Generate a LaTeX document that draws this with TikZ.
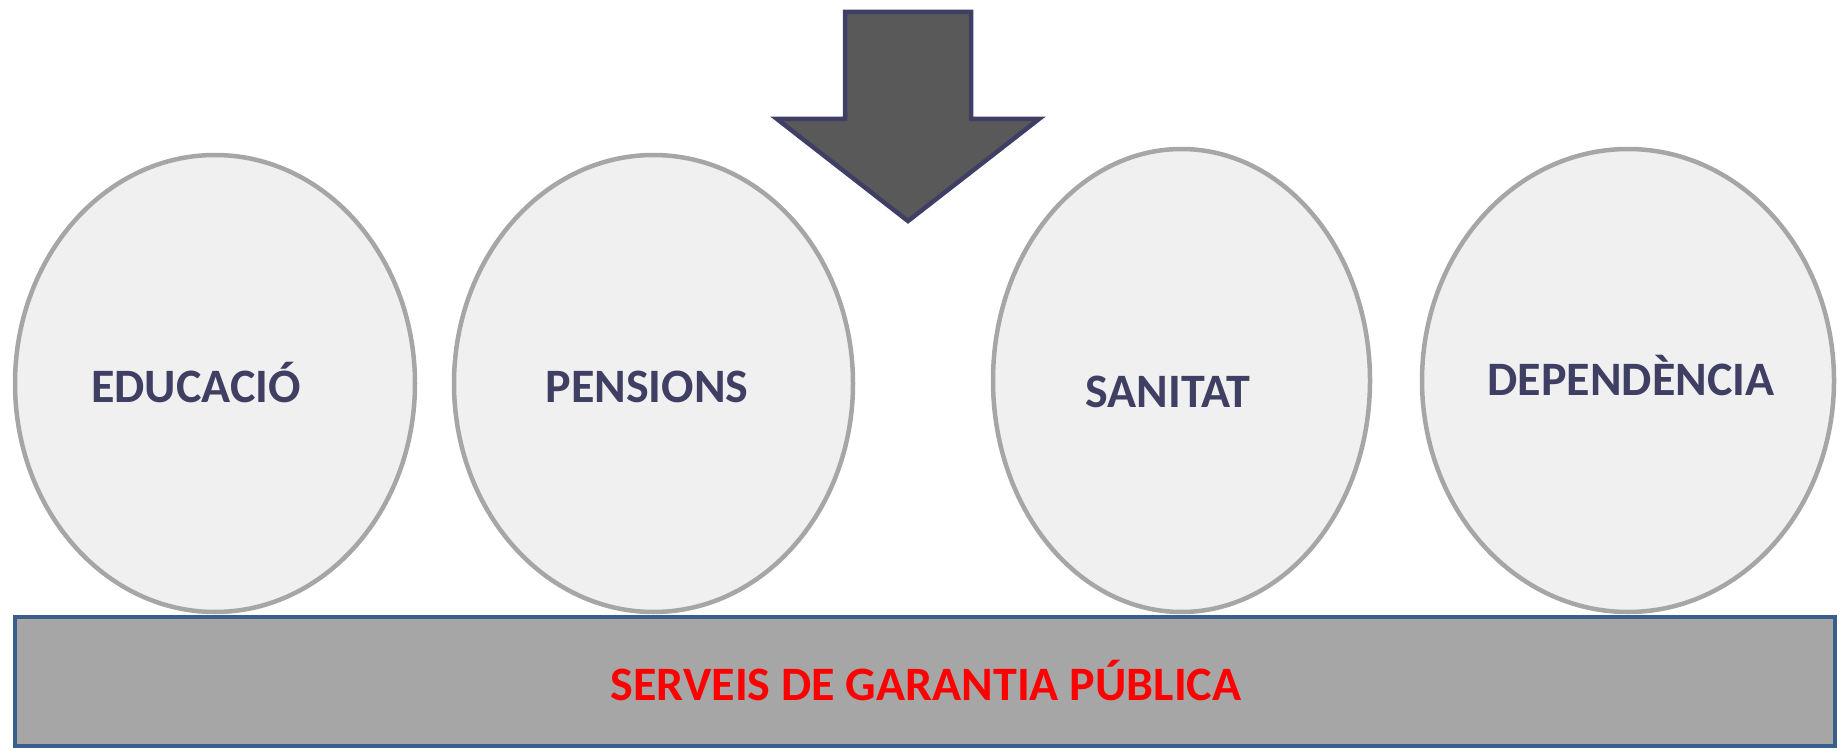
\documentclass[tikz,border=0pt]{standalone}
\usepackage{fontspec}
\setmainfont{Carlito}
\usetikzlibrary{shapes.geometric}
\definecolor{ellfill}{HTML}{F0F0F0}
\definecolor{elldraw}{HTML}{A6A6A6}
\definecolor{labtext}{HTML}{3F3F63}
\definecolor{arrfill}{HTML}{595959}
\definecolor{arrdraw}{HTML}{3F3F66}
\definecolor{barfill}{HTML}{A6A6A6}
\definecolor{bardraw}{HTML}{3A5E8C}
\tikzset{
  pillar/.style={ellipse, draw=elldraw, fill=ellfill, line width=4.5pt, inner sep=0pt, outer sep=0pt},
  pillarlabel/.style={anchor=base, inner sep=0pt, text=labtext, font=\fontsize{48}{52}\selectfont\bfseries},
  baselabel/.style={anchor=base, inner sep=0pt, text=red, font=\fontsize{48}{52}\selectfont\bfseries},
  bigarrow/.style={draw=arrdraw, fill=arrfill, line width=4.5pt, line join=miter},
  basebar/.style={draw=bardraw, fill=barfill, line width=4.5pt}
}
\begin{document}
\begin{tikzpicture}[x=1pt,y=-1pt]
\useasboundingbox (0,0) rectangle (1847,751);
% base bar
\draw[basebar] (15,617) rectangle (1835,746);
\coordinate (barc) at (926,700);
\node[baselabel] (serveis) at (barc) {SERVEIS DE GARANTIA PÚBLICA};
% pillars
\node[pillar, minimum width=400pt, minimum height=457pt] (e1) at (215,383.5) {};
\node[pillar, minimum width=399pt, minimum height=457pt] (e2) at (653.5,383.5) {};
\node[pillar, minimum width=377pt, minimum height=463pt] (e3) at (1181.5,380.5) {};
\node[pillar, minimum width=412pt, minimum height=463pt] (e4) at (1628,380.5) {};
\node[pillarlabel] (t1) at (196,402) {EDUCACIÓ};
\node[pillarlabel] (t2) at (647,402) {PENSIONS};
\node[pillarlabel] (t3) at (1168,407) {SANITAT};
\node[pillarlabel] (t4) at (1631,395) {DEPENDÈNCIA};
% arrow
\draw[bigarrow] (845,12) -- (971,12) -- (971,119) -- (1039,119) -- (908,221) -- (777,119) -- (845,119) -- cycle;
\end{tikzpicture}
\end{document}
